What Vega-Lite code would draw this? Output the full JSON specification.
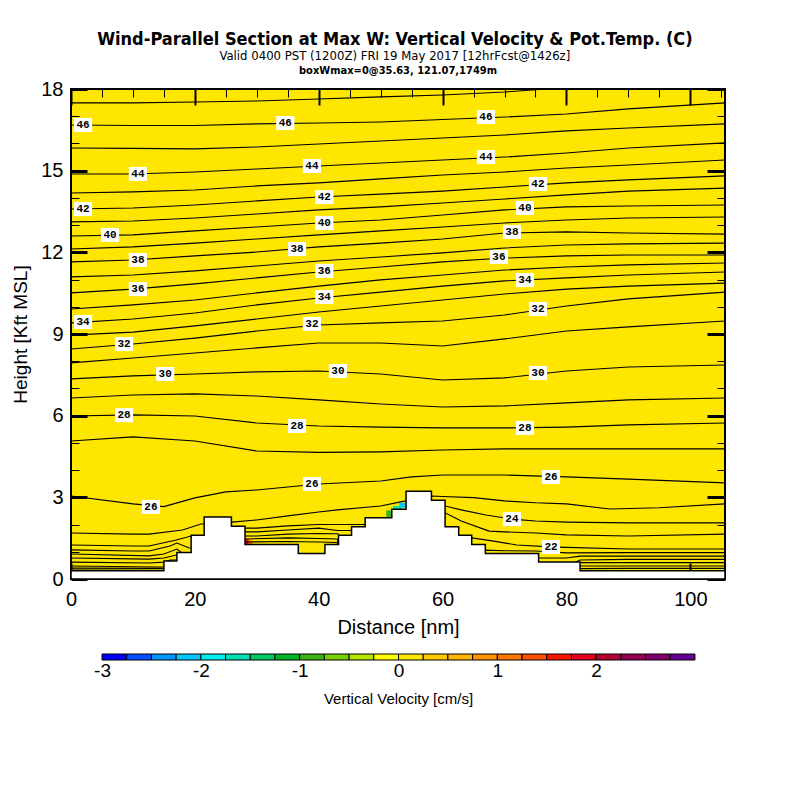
{
"$schema": "https://vega.github.io/schema/vega-lite/v6.json",
"padding": {"left": 10, "top": 31, "right": 5, "bottom": 5},
"background": "white",
"title": {"text": "Wind-Parallel Section at Max W: Vertical Velocity & Pot.Temp. (C)", "subtitle": "Valid 0400 PST (1200Z) FRI 19 May 2017 [12hrFcst@1426z]", "font": "Liberation Sans Narrow, Arial Narrow, DejaVu Sans Condensed, sans-serif", "fontSize": 18, "fontWeight": "bold", "color": "black", "subtitleFont": "Liberation Sans Narrow, Arial Narrow, DejaVu Sans Condensed, sans-serif", "subtitleFontSize": 13, "subtitleColor": "black", "subtitlePadding": 1, "anchor": "middle", "dx": 25, "offset": 1},
"spacing": 15,
"datasets": {
"patches": [
{"x":28.1,"x2":28.7,"y":1.27,"y2":1.46,"w":1.8},
{"x":28.7,"x2":29.3,"y":1.27,"y2":1.42,"w":1.2},
{"x":50.9,"x2":52.4,"y":2.28,"y2":2.52,"w":-0.9},
{"x":52.0,"x2":53.4,"y":2.50,"y2":2.68,"w":-1.6},
{"x":53.0,"x2":54.1,"y":2.62,"y2":2.80,"w":-2.2}
],
"contours": [
{"v":47,"x":0,"y":17.49},{"v":47,"x":10,"y":17.49},{"v":47,"x":20,"y":17.52},{"v":47,"x":30,"y":17.56},{"v":47,"x":40,"y":17.63},{"v":47,"x":50,"y":17.71},{"v":47,"x":60,"y":17.78},{"v":47,"x":70,"y":17.89},{"v":47,"x":75.6,"y":17.98},{"v":47,"x":80,"y":18.0},
{"v":46,"x":0,"y":16.68},{"v":46,"x":10,"y":16.66},{"v":46,"x":20,"y":16.66},{"v":46,"x":30,"y":16.72},{"v":46,"x":40,"y":16.75},{"v":46,"x":50,"y":16.79},{"v":46,"x":60,"y":16.88},{"v":46,"x":70,"y":16.97},{"v":46,"x":80,"y":17.08},{"v":46,"x":90,"y":17.27},{"v":46,"x":105.6,"y":17.49},
{"v":45,"x":0,"y":15.83},{"v":45,"x":10,"y":15.82},{"v":45,"x":20,"y":15.80},{"v":45,"x":30,"y":15.87},{"v":45,"x":40,"y":15.98},{"v":45,"x":50,"y":16.09},{"v":45,"x":60,"y":16.20},{"v":45,"x":70,"y":16.31},{"v":45,"x":80,"y":16.46},{"v":45,"x":90,"y":16.57},{"v":45,"x":105.6,"y":16.72},
{"v":44,"x":0,"y":14.88},{"v":44,"x":10,"y":14.88},{"v":44,"x":20,"y":14.95},{"v":44,"x":30,"y":15.06},{"v":44,"x":40,"y":15.17},{"v":44,"x":50,"y":15.28},{"v":44,"x":60,"y":15.39},{"v":44,"x":70,"y":15.50},{"v":44,"x":80,"y":15.65},{"v":44,"x":90,"y":15.83},{"v":44,"x":105.6,"y":16.02},
{"v":43,"x":0,"y":14.18},{"v":43,"x":10,"y":14.22},{"v":43,"x":20,"y":14.29},{"v":43,"x":30,"y":14.44},{"v":43,"x":40,"y":14.55},{"v":43,"x":50,"y":14.70},{"v":43,"x":60,"y":14.84},{"v":43,"x":70,"y":14.95},{"v":43,"x":80,"y":15.10},{"v":43,"x":90,"y":15.21},{"v":43,"x":105.6,"y":15.39},
{"v":42,"x":0,"y":13.59},{"v":42,"x":10,"y":13.63},{"v":42,"x":20,"y":13.74},{"v":42,"x":30,"y":13.89},{"v":42,"x":40,"y":14.03},{"v":42,"x":50,"y":14.14},{"v":42,"x":60,"y":14.25},{"v":42,"x":70,"y":14.40},{"v":42,"x":80,"y":14.55},{"v":42,"x":90,"y":14.66},{"v":42,"x":105.6,"y":14.81},
{"v":41,"x":0,"y":13.12},{"v":41,"x":10,"y":13.15},{"v":41,"x":20,"y":13.26},{"v":41,"x":30,"y":13.41},{"v":41,"x":40,"y":13.56},{"v":41,"x":50,"y":13.67},{"v":41,"x":60,"y":13.81},{"v":41,"x":70,"y":13.96},{"v":41,"x":80,"y":14.11},{"v":41,"x":90,"y":14.25},{"v":41,"x":105.6,"y":14.36},
{"v":40,"x":0,"y":12.60},{"v":40,"x":10,"y":12.64},{"v":40,"x":20,"y":12.79},{"v":40,"x":30,"y":12.93},{"v":40,"x":40,"y":13.08},{"v":40,"x":50,"y":13.19},{"v":40,"x":60,"y":13.37},{"v":40,"x":70,"y":13.56},{"v":40,"x":80,"y":13.67},{"v":40,"x":90,"y":13.70},{"v":40,"x":105.6,"y":13.74},
{"v":39,"x":0,"y":12.12},{"v":39,"x":10,"y":12.20},{"v":39,"x":20,"y":12.34},{"v":39,"x":30,"y":12.49},{"v":39,"x":40,"y":12.64},{"v":39,"x":50,"y":12.79},{"v":39,"x":60,"y":12.93},{"v":39,"x":70,"y":13.08},{"v":39,"x":80,"y":13.19},{"v":39,"x":90,"y":13.26},{"v":39,"x":105.6,"y":13.30},
{"v":38,"x":0,"y":11.65},{"v":38,"x":10,"y":11.72},{"v":38,"x":20,"y":11.87},{"v":38,"x":30,"y":12.01},{"v":38,"x":40,"y":12.20},{"v":38,"x":50,"y":12.34},{"v":38,"x":60,"y":12.49},{"v":38,"x":70,"y":12.71},{"v":38,"x":80,"y":12.75},{"v":38,"x":90,"y":12.71},{"v":38,"x":105.6,"y":12.67},
{"v":37,"x":0,"y":11.10},{"v":37,"x":10,"y":11.17},{"v":37,"x":20,"y":11.32},{"v":37,"x":30,"y":11.50},{"v":37,"x":40,"y":11.68},{"v":37,"x":50,"y":11.83},{"v":37,"x":60,"y":11.98},{"v":37,"x":70,"y":12.16},{"v":37,"x":80,"y":12.27},{"v":37,"x":90,"y":12.31},{"v":37,"x":105.6,"y":12.34},
{"v":36,"x":0,"y":10.51},{"v":36,"x":10,"y":10.65},{"v":36,"x":20,"y":10.84},{"v":36,"x":30,"y":11.06},{"v":36,"x":40,"y":11.28},{"v":36,"x":50,"y":11.46},{"v":36,"x":60,"y":11.65},{"v":36,"x":70,"y":11.79},{"v":36,"x":80,"y":11.87},{"v":36,"x":90,"y":11.90},{"v":36,"x":105.6,"y":11.90},
{"v":35,"x":0,"y":9.92},{"v":35,"x":10,"y":10.07},{"v":35,"x":20,"y":10.25},{"v":35,"x":30,"y":10.51},{"v":35,"x":40,"y":10.76},{"v":35,"x":50,"y":10.99},{"v":35,"x":60,"y":11.17},{"v":35,"x":70,"y":11.35},{"v":35,"x":80,"y":11.46},{"v":35,"x":90,"y":11.54},{"v":35,"x":105.6,"y":11.61},
{"v":34,"x":0,"y":9.41},{"v":34,"x":10,"y":9.55},{"v":34,"x":20,"y":9.77},{"v":34,"x":30,"y":10.07},{"v":34,"x":40,"y":10.32},{"v":34,"x":50,"y":10.54},{"v":34,"x":60,"y":10.76},{"v":34,"x":70,"y":10.95},{"v":34,"x":80,"y":11.06},{"v":34,"x":90,"y":11.17},{"v":34,"x":105.6,"y":11.28},
{"v":33,"x":0,"y":8.96},{"v":33,"x":10,"y":9.07},{"v":33,"x":20,"y":9.30},{"v":33,"x":30,"y":9.55},{"v":33,"x":40,"y":9.81},{"v":33,"x":50,"y":10.03},{"v":33,"x":60,"y":10.25},{"v":33,"x":70,"y":10.47},{"v":33,"x":80,"y":10.65},{"v":33,"x":90,"y":10.76},{"v":33,"x":105.6,"y":10.87},
{"v":32,"x":0,"y":8.45},{"v":32,"x":10,"y":8.63},{"v":32,"x":20,"y":8.85},{"v":32,"x":30,"y":9.11},{"v":32,"x":40,"y":9.33},{"v":32,"x":50,"y":9.41},{"v":32,"x":60,"y":9.48},{"v":32,"x":70,"y":9.70},{"v":32,"x":80,"y":10.03},{"v":32,"x":90,"y":10.29},{"v":32,"x":105.6,"y":10.54},
{"v":31,"x":0,"y":7.94},{"v":31,"x":10,"y":8.12},{"v":31,"x":20,"y":8.30},{"v":31,"x":30,"y":8.49},{"v":31,"x":40,"y":8.67},{"v":31,"x":50,"y":8.67},{"v":31,"x":60,"y":8.56},{"v":31,"x":70,"y":8.82},{"v":31,"x":80,"y":9.11},{"v":31,"x":90,"y":9.26},{"v":31,"x":105.6,"y":9.48},
{"v":30,"x":0,"y":7.35},{"v":30,"x":10,"y":7.46},{"v":30,"x":20,"y":7.53},{"v":30,"x":30,"y":7.61},{"v":30,"x":40,"y":7.64},{"v":30,"x":50,"y":7.53},{"v":30,"x":60,"y":7.31},{"v":30,"x":70,"y":7.39},{"v":30,"x":80,"y":7.64},{"v":30,"x":90,"y":7.79},{"v":30,"x":105.6,"y":7.86},
{"v":29,"x":0,"y":6.65},{"v":29,"x":10,"y":6.76},{"v":29,"x":20,"y":6.80},{"v":29,"x":30,"y":6.72},{"v":29,"x":40,"y":6.58},{"v":29,"x":50,"y":6.43},{"v":29,"x":60,"y":6.32},{"v":29,"x":70,"y":6.36},{"v":29,"x":80,"y":6.47},{"v":29,"x":90,"y":6.58},{"v":29,"x":105.6,"y":6.65},
{"v":28,"x":0,"y":5.99},{"v":28,"x":10,"y":6.03},{"v":28,"x":20,"y":5.99},{"v":28,"x":30,"y":5.73},{"v":28,"x":40,"y":5.62},{"v":28,"x":50,"y":5.58},{"v":28,"x":60,"y":5.55},{"v":28,"x":70,"y":5.55},{"v":28,"x":80,"y":5.58},{"v":28,"x":90,"y":5.66},{"v":28,"x":105.6,"y":5.73},
{"v":27,"x":0,"y":5.07},{"v":27,"x":10,"y":5.22},{"v":27,"x":20,"y":5.07},{"v":27,"x":30,"y":4.70},{"v":27,"x":40,"y":4.65},{"v":27,"x":50,"y":4.67},{"v":27,"x":60,"y":4.74},{"v":27,"x":70,"y":4.78},{"v":27,"x":80,"y":4.78},{"v":27,"x":90,"y":4.78},{"v":27,"x":105.6,"y":4.78},
{"v":26,"x":0,"y":3.05},{"v":26,"x":10,"y":2.76},{"v":26,"x":15,"y":2.66},{"v":26,"x":20,"y":2.98},{"v":26,"x":25,"y":3.20},{"v":26,"x":30,"y":3.27},{"v":26,"x":40,"y":3.49},{"v":26,"x":50,"y":3.60},{"v":26,"x":55,"y":3.75},{"v":26,"x":60,"y":3.82},{"v":26,"x":70,"y":3.82},{"v":26,"x":80,"y":3.75},{"v":26,"x":90,"y":3.67},{"v":26,"x":105.6,"y":3.53},
{"v":25,"x":0,"y":1.69},{"v":25,"x":10,"y":1.65},{"v":25,"x":12.6,"y":1.65},{"v":25,"x":18,"y":1.80},{"v":25,"x":21,"y":2.02},{"v":25,"x":26,"y":2.09},{"v":25,"x":30,"y":2.17},{"v":25,"x":35,"y":2.32},{"v":25,"x":40,"y":2.46},{"v":25,"x":43,"y":2.54},{"v":25,"x":50,"y":2.68},{"v":25,"x":54,"y":2.87},{"v":25,"x":56,"y":3.01},{"v":25,"x":58.2,"y":3.05},{"v":25,"x":60,"y":3.03},{"v":25,"x":65,"y":2.99},{"v":25,"x":70,"y":2.87},{"v":25,"x":75,"y":2.80},{"v":25,"x":80,"y":2.76},{"v":25,"x":87,"y":2.57},{"v":25,"x":95,"y":2.62},{"v":25,"x":105.6,"y":2.76},
{"v":24,"x":0,"y":1.25},{"v":24,"x":10,"y":1.21},{"v":24,"x":12.6,"y":1.21},{"v":24,"x":17,"y":1.43},{"v":24,"x":19.4,"y":1.58},{"v":24,"x":21,"y":1.40},{"v":24,"x":25,"y":1.40},{"v":24,"x":27,"y":1.69},{"v":24,"x":28.1,"y":1.87},{"v":24,"x":30,"y":1.87},{"v":24,"x":35,"y":1.95},{"v":24,"x":40,"y":2.0},{"v":24,"x":43,"y":2.0},{"v":24,"x":45,"y":2.0},{"v":24,"x":47,"y":2.0},{"v":24,"x":50,"y":1.98},{"v":24,"x":55,"y":2.32},{"v":24,"x":58,"y":2.50},{"v":24,"x":60.4,"y":2.68},{"v":24,"x":63,"y":2.54},{"v":24,"x":67,"y":2.35},{"v":24,"x":71.2,"y":2.20},{"v":24,"x":75,"y":2.13},{"v":24,"x":80,"y":2.09},{"v":24,"x":90,"y":2.06},{"v":24,"x":105.6,"y":2.06},
{"v":23,"x":0,"y":1.07},{"v":23,"x":10,"y":1.03},{"v":23,"x":12.6,"y":1.03},{"v":23,"x":16,"y":1.21},{"v":23,"x":17.1,"y":1.32},{"v":23,"x":19,"y":1.15},{"v":23,"x":25,"y":1.10},{"v":23,"x":28.1,"y":1.73},{"v":23,"x":30,"y":1.73},{"v":23,"x":35,"y":1.80},{"v":23,"x":40,"y":1.87},{"v":23,"x":43,"y":1.78},{"v":23,"x":45.2,"y":1.78},{"v":23,"x":47,"y":1.5},{"v":23,"x":50,"y":1.4},{"v":23,"x":55,"y":2.0},{"v":23,"x":60.4,"y":2.43},{"v":23,"x":63,"y":2.13},{"v":23,"x":67.5,"y":1.76},{"v":23,"x":70,"y":1.73},{"v":23,"x":75,"y":1.69},{"v":23,"x":80,"y":1.62},{"v":23,"x":90,"y":1.58},{"v":23,"x":105.6,"y":1.65},
{"v":22,"x":0,"y":0.92},{"v":22,"x":12.6,"y":0.85},{"v":22,"x":15,"y":0.92},{"v":22,"x":17.1,"y":1.10},{"v":22,"x":18,"y":0.95},{"v":22,"x":25,"y":0.95},{"v":22,"x":28.1,"y":1.58},{"v":22,"x":30,"y":1.58},{"v":22,"x":35,"y":1.65},{"v":22,"x":40,"y":1.67},{"v":22,"x":43.1,"y":1.66},{"v":22,"x":44,"y":1.3},{"v":22,"x":60,"y":1.2},{"v":22,"x":62.5,"y":1.3},{"v":22,"x":64.7,"y":1.51},{"v":22,"x":68,"y":1.40},{"v":22,"x":72,"y":1.25},{"v":22,"x":77.5,"y":1.18},{"v":22,"x":80,"y":1.16},{"v":22,"x":90,"y":1.10},{"v":22,"x":105.6,"y":1.10},
{"v":21,"x":0,"y":0.77},{"v":21,"x":12.6,"y":0.73},{"v":21,"x":15,"y":0.77},{"v":21,"x":17,"y":0.88},{"v":21,"x":17.2,"y":0.85},{"v":21,"x":25,"y":0.85},{"v":21,"x":28.1,"y":1.47},{"v":21,"x":35,"y":1.51},{"v":21,"x":40,"y":1.49},{"v":21,"x":43,"y":1.47},{"v":21,"x":43.3,"y":1.0},{"v":21,"x":60,"y":1.0},{"v":21,"x":66.9,"y":1.06},{"v":21,"x":70,"y":1.04},{"v":21,"x":75,"y":1.03},{"v":21,"x":80,"y":0.96},{"v":21,"x":90,"y":0.97},{"v":21,"x":105.6,"y":0.97},
{"v":20,"x":0,"y":0.62},{"v":20,"x":12.6,"y":0.59},{"v":20,"x":15,"y":0.62},{"v":20,"x":16,"y":0.70},{"v":20,"x":17,"y":0.70},{"v":20,"x":25,"y":0.70},{"v":20,"x":28.1,"y":1.36},{"v":20,"x":35,"y":1.38},{"v":20,"x":40,"y":1.36},{"v":20,"x":43,"y":1.34},{"v":20,"x":43.3,"y":0.9},{"v":20,"x":66.9,"y":0.9},{"v":20,"x":75,"y":0.77},{"v":20,"x":80,"y":0.77},{"v":20,"x":82.2,"y":0.84},{"v":20,"x":90,"y":0.84},{"v":20,"x":105.6,"y":0.84},
{"v":19,"x":0,"y":0.48},{"v":19,"x":14,"y":0.44},{"v":19,"x":80,"y":0.48},{"v":19,"x":82.2,"y":0.70},{"v":19,"x":90,"y":0.72},{"v":19,"x":105.6,"y":0.72},
{"v":18,"x":0,"y":0.40},{"v":18,"x":14,"y":0.39},{"v":18,"x":80,"y":0.40},{"v":18,"x":82.2,"y":0.60},{"v":18,"x":90,"y":0.60},{"v":18,"x":105.6,"y":0.60},
{"v":17,"x":0,"y":0.33},{"v":17,"x":14,"y":0.32},{"v":17,"x":80,"y":0.33},{"v":17,"x":82.2,"y":0.48},{"v":17,"x":90,"y":0.48},{"v":17,"x":105.6,"y":0.48},
{"v":16,"x":82.2,"y":0.38},{"v":16,"x":90,"y":0.39},{"v":16,"x":105.6,"y":0.39}
],
"terrain": [
{"x":0,"h":0.30},{"x":15,"h":0.66},{"x":17.1,"h":0.97},{"x":19.4,"h":1.61},{"x":21.5,"h":2.28},{"x":25.9,"h":1.94},{"x":28.1,"h":1.27},{"x":36.7,"h":0.94},{"x":41.0,"h":1.27},{"x":43.2,"h":1.61},{"x":45.3,"h":1.92},{"x":47.5,"h":2.25},{"x":51.8,"h":2.56},{"x":54.1,"h":3.22},{"x":58.2,"h":2.89},{"x":60.4,"h":1.92},{"x":62.6,"h":1.61},{"x":64.7,"h":1.27},{"x":66.9,"h":0.94},{"x":75.5,"h":0.62},{"x":82.2,"h":0.30},{"x":105.6,"h":0.30}
],
"labels": [
{"t":"46","x":1.94,"y":16.68},{"t":"46","x":34.6,"y":16.75},{"t":"46","x":67.0,"y":16.97},
{"t":"44","x":10.8,"y":14.88},{"t":"44","x":38.9,"y":15.17},{"t":"44","x":67.0,"y":15.50},
{"t":"42","x":1.94,"y":13.59},{"t":"42","x":40.9,"y":14.03},{"t":"42","x":75.4,"y":14.51},
{"t":"40","x":6.3,"y":12.64},{"t":"40","x":40.9,"y":13.08},{"t":"40","x":73.3,"y":13.63},
{"t":"38","x":10.8,"y":11.72},{"t":"38","x":36.5,"y":12.12},{"t":"38","x":71.2,"y":12.75},
{"t":"36","x":10.8,"y":10.65},{"t":"36","x":40.9,"y":11.32},{"t":"36","x":69.1,"y":11.83},
{"t":"34","x":1.94,"y":9.44},{"t":"34","x":40.9,"y":10.36},{"t":"34","x":73.3,"y":10.98},
{"t":"32","x":8.56,"y":8.63},{"t":"32","x":38.9,"y":9.37},{"t":"32","x":75.4,"y":9.92},
{"t":"30","x":15.2,"y":7.53},{"t":"30","x":43.1,"y":7.64},{"t":"30","x":75.4,"y":7.57},
{"t":"28","x":8.56,"y":6.02},{"t":"28","x":36.5,"y":5.62},{"t":"28","x":73.3,"y":5.55},
{"t":"26","x":12.9,"y":2.65},{"t":"26","x":38.9,"y":3.49},{"t":"26","x":77.5,"y":3.75},
{"t":"24","x":71.2,"y":2.20},
{"t":"22","x":77.5,"y":1.18}
],
"bins": [
{"lo":-3,"hi":-2.75,"mid":-2.875},{"lo":-2.75,"hi":-2.5,"mid":-2.625},{"lo":-2.5,"hi":-2.25,"mid":-2.375},{"lo":-2.25,"hi":-2,"mid":-2.125},{"lo":-2,"hi":-1.75,"mid":-1.875},{"lo":-1.75,"hi":-1.5,"mid":-1.625},{"lo":-1.5,"hi":-1.25,"mid":-1.375},{"lo":-1.25,"hi":-1,"mid":-1.125},{"lo":-1,"hi":-0.75,"mid":-0.875},{"lo":-0.75,"hi":-0.5,"mid":-0.625},{"lo":-0.5,"hi":-0.25,"mid":-0.375},{"lo":-0.25,"hi":0,"mid":-0.125},{"lo":0,"hi":0.25,"mid":0.125},{"lo":0.25,"hi":0.5,"mid":0.375},{"lo":0.5,"hi":0.75,"mid":0.625},{"lo":0.75,"hi":1,"mid":0.875},{"lo":1,"hi":1.25,"mid":1.125},{"lo":1.25,"hi":1.5,"mid":1.375},{"lo":1.5,"hi":1.75,"mid":1.625},{"lo":1.75,"hi":2,"mid":1.875},{"lo":2,"hi":2.25,"mid":2.125},{"lo":2.25,"hi":2.5,"mid":2.375},{"lo":2.5,"hi":2.75,"mid":2.625},{"lo":2.75,"hi":3,"mid":2.875}
]
},
"vconcat": [
{
"width": 654, "height": 490,
"title": {"text": "boxWmax=0@35.63, 121.07,1749m", "font": "Liberation Sans Narrow, Arial Narrow, DejaVu Sans Condensed, sans-serif", "fontSize": 11, "fontWeight": "bold", "color": "black", "anchor": "middle", "frame": "group", "offset": 3},
"view": {"fill": "#ffe600", "stroke": "black", "strokeWidth": 2},
"resolve": {"axis": {"x": "independent", "y": "independent"}},
"layer": [
{
"data": {"name": "patches"},
"mark": {"type": "rect"},
"encoding": {
"x": {"field": "x", "type": "quantitative", "scale": {"domain": [0, 105.6], "nice": false, "zero": false},
 "axis": {"orient": "bottom", "values": [0,5,10,15,20,25,30,35,40,45,50,55,60,65,70,75,80,85,90,95,100,105], "labelExpr": "datum.value % 20 === 0 ? '' + datum.value : ''", "labelOverlap": false, "labelFlush": false, "domain": false, "grid": false, "tickColor": "black", "tickSize": {"condition": {"test": "datum.value % 20 === 0", "value": -16}, "value": -8}, "tickWidth": {"condition": {"test": "datum.value % 20 === 0", "value": 2}, "value": 1}, "labelFontSize": 20, "labelPadding": 26, "labelColor": "black", "title": "Distance [nm]", "titleFontSize": 20, "titleFontWeight": "normal", "titleColor": "black", "titlePadding": 0}},
"x2": {"field": "x2"},
"y": {"field": "y", "type": "quantitative", "scale": {"domain": [0, 18], "nice": false, "zero": false},
 "axis": {"orient": "left", "values": [0,1,2,3,4,5,6,7,8,9,10,11,12,13,14,15,16,17,18], "labelExpr": "datum.value % 3 === 0 ? '' + datum.value : ''", "labelOverlap": false, "labelFlush": false, "domain": false, "grid": false, "tickColor": "black", "tickSize": {"condition": {"test": "datum.value % 3 === 0", "value": -16}, "value": -8}, "tickWidth": {"condition": {"test": "datum.value % 3 === 0", "value": 3}, "value": 1}, "labelFontSize": 20, "labelPadding": 24, "labelColor": "black", "title": "Height [Kft MSL]", "titleFontSize": 19, "titleFontWeight": "normal", "titleColor": "black", "titlePadding": 10}},
"y2": {"field": "y2"},
"color": {"field": "w", "type": "quantitative", "legend": null, "scale": {"type": "threshold", "domain": [-2.75,-2.5,-2.25,-2,-1.75,-1.5,-1.25,-1,-0.75,-0.5,-0.25,0,0.25,0.5,0.75,1,1.25,1.5,1.75,2,2.25,2.5,2.75], "range": ["#0000ff","#0050ff","#0096ff","#00c8ff","#00f0f0","#00e0b0","#00c864","#00b428","#3cb414","#78d200","#b4e600","#ffff00","#ffe600","#ffc800","#ffb400","#ff9600","#ff7800","#ff5000","#ff1400","#e6001e","#b40032","#960050","#82006e","#640096"]}}
}
},
{
"data": {"name": "contours"},
"mark": {"type": "line", "color": "black", "strokeWidth": 1.1, "clip": true},
"encoding": {
"x": {"field": "x", "type": "quantitative", "scale": {"domain": [0, 105.6], "nice": false, "zero": false},
 "axis": {"orient": "top", "values": [0,5,10,15,20,25,30,35,40,45,50,55,60,65,70,75,80,85,90,95,100,105], "labels": false, "domain": false, "grid": false, "title": null, "tickColor": "black", "tickSize": {"condition": {"test": "datum.value % 20 === 0", "value": -16}, "value": -8}, "tickWidth": {"condition": {"test": "datum.value % 20 === 0", "value": 2}, "value": 1}}},
"y": {"field": "y", "type": "quantitative", "scale": {"domain": [0, 18], "nice": false, "zero": false},
 "axis": {"orient": "right", "values": [0,1,2,3,4,5,6,7,8,9,10,11,12,13,14,15,16,17,18], "labels": false, "domain": false, "grid": false, "title": null, "tickColor": "black", "tickSize": {"condition": {"test": "datum.value % 3 === 0", "value": -18}, "value": -8}, "tickWidth": {"condition": {"test": "datum.value % 3 === 0", "value": 3}, "value": 1}}},
"detail": {"field": "v", "type": "nominal"}
}
},
{
"data": {"name": "terrain"},
"mark": {"type": "area", "interpolate": "step-after", "fill": "white", "stroke": "black", "strokeWidth": 1.5},
"encoding": {
"x": {"field": "x", "type": "quantitative", "scale": {"domain": [0, 105.6], "nice": false, "zero": false}, "axis": null},
"y": {"field": "h", "type": "quantitative", "scale": {"domain": [0, 18], "nice": false, "zero": false}, "axis": null}
}
},
{
"data": {"name": "labels"},
"mark": {"type": "point", "shape": "M-1.3,-1H1.3V1H-1.3Z", "filled": true, "fill": "white", "opacity": 1, "size": 196, "strokeWidth": 0},
"encoding": {
"x": {"field": "x", "type": "quantitative", "scale": {"domain": [0, 105.6], "nice": false, "zero": false}, "axis": null},
"y": {"field": "y", "type": "quantitative", "scale": {"domain": [0, 18], "nice": false, "zero": false}, "axis": null}
}
},
{
"data": {"name": "labels"},
"mark": {"type": "text", "font": "Liberation Mono", "fontSize": 11, "fontWeight": "bold", "color": "black", "align": "center", "baseline": "middle"},
"encoding": {
"x": {"field": "x", "type": "quantitative", "scale": {"domain": [0, 105.6], "nice": false, "zero": false}, "axis": null},
"y": {"field": "y", "type": "quantitative", "scale": {"domain": [0, 18], "nice": false, "zero": false}, "axis": null},
"text": {"field": "t", "type": "nominal"}
}
}
]
},
{
"width": 654, "height": 6,
"data": {"name": "bins"},
"view": {"stroke": null},
"mark": {"type": "rect", "stroke": "black", "strokeWidth": 1},
"encoding": {
"x": {"field": "lo", "type": "quantitative", "scale": {"domain": [-3.314, 3.304], "nice": false, "zero": false},
 "axis": {"values": [-3,-2,-1,0,1,2], "labelExpr": "'' + datum.value", "ticks": false, "domain": false, "grid": false, "labelFontSize": 19, "labelPadding": 1, "labelColor": "black", "title": "Vertical Velocity [cm/s]", "titleFontSize": 15, "titleFontWeight": "normal", "titleColor": "black", "titlePadding": 11}},
"x2": {"field": "hi"},
"color": {"field": "mid", "type": "quantitative", "legend": null, "scale": {"type": "threshold", "domain": [-2.75,-2.5,-2.25,-2,-1.75,-1.5,-1.25,-1,-0.75,-0.5,-0.25,0,0.25,0.5,0.75,1,1.25,1.5,1.75,2,2.25,2.5,2.75], "range": ["#0000ff","#0050ff","#0096ff","#00c8ff","#00f0f0","#00e0b0","#00c864","#00b428","#3cb414","#78d200","#b4e600","#ffff00","#ffe600","#ffc800","#ffb400","#ff9600","#ff7800","#ff5000","#ff1400","#e6001e","#b40032","#960050","#82006e","#640096"]}}
}
}
],
"config": {"font": "Liberation Sans", "axis": {"labelFont": "Liberation Sans", "titleFont": "Liberation Sans"}, "view": {"stroke": null}}
}
